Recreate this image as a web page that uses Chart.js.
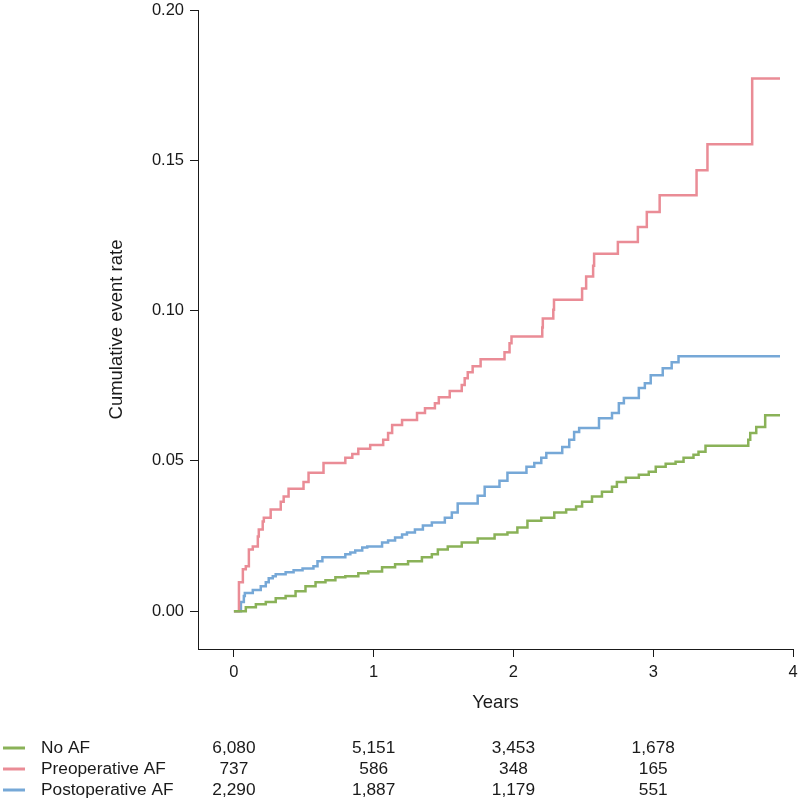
<!DOCTYPE html>
<html>
<head>
<meta charset="utf-8">
<script src="https://cdn.jsdelivr.net/npm/chart.js@4"></script>
<style>
  body { margin: 0; background: #fff; }
</style>
</head>
<body>
<canvas id="kmChart" width="800" height="803"></canvas>
<script>
// step times (years) and cumulative event rate after each step
const noAfTime = [0, 0.085, 0.157, 0.228, 0.299, 0.370, 0.441, 0.512, 0.584, 0.655, 0.726, 0.797, 0.890, 0.961, 1.060, 1.153, 1.246, 1.345, 1.416, 1.459, 1.530, 1.630, 1.744, 1.865, 1.957, 2.028, 2.100, 2.199, 2.292, 2.377, 2.448, 2.491, 2.562, 2.633, 2.705, 2.740, 2.804, 2.897, 2.968, 3.018, 3.089, 3.160, 3.217, 3.288, 3.324, 3.374, 3.680, 3.694, 3.737, 3.801, 3.907];
const noAfRate = [0, 0.0013, 0.0023, 0.0030, 0.0043, 0.0050, 0.0066, 0.0083, 0.0096, 0.0103, 0.0113, 0.0116, 0.0126, 0.0132, 0.0146, 0.0156, 0.0166, 0.0179, 0.0189, 0.0205, 0.0215, 0.0228, 0.0242, 0.0255, 0.0262, 0.0278, 0.0301, 0.0311, 0.0328, 0.0338, 0.0348, 0.0364, 0.0381, 0.0397, 0.0414, 0.0430, 0.0444, 0.0454, 0.0464, 0.0480, 0.0490, 0.0497, 0.0510, 0.0520, 0.0530, 0.0550, 0.0570, 0.0593, 0.0613, 0.0652, 0.0652];

const preAfTime = [0, 0.036, 0.064, 0.085, 0.107, 0.135, 0.171, 0.178, 0.206, 0.214, 0.263, 0.335, 0.356, 0.391, 0.498, 0.534, 0.641, 0.797, 0.847, 0.890, 0.975, 1.068, 1.103, 1.132, 1.203, 1.310, 1.367, 1.438, 1.466, 1.544, 1.630, 1.651, 1.673, 1.708, 1.765, 1.936, 1.972, 1.986, 2.206, 2.210, 2.285, 2.290, 2.491, 2.520, 2.570, 2.577, 2.747, 2.890, 2.954, 3.046, 3.310, 3.388, 3.708, 3.907];
const preAfRate = [0, 0.0096, 0.0139, 0.0149, 0.0205, 0.0215, 0.0248, 0.0272, 0.0298, 0.0311, 0.0338, 0.0364, 0.0381, 0.0407, 0.0430, 0.0460, 0.0493, 0.0510, 0.0523, 0.0540, 0.0553, 0.0570, 0.0593, 0.0619, 0.0636, 0.0659, 0.0675, 0.0692, 0.0712, 0.0732, 0.0752, 0.0775, 0.0795, 0.0815, 0.0838, 0.0861, 0.0891, 0.0914, 0.0944, 0.0974, 0.1003, 0.1036, 0.1073, 0.1113, 0.1149, 0.1189, 0.1228, 0.1278, 0.1328, 0.1384, 0.1467, 0.1553, 0.1772, 0.1772];

const postAfTime = [0, 0.050, 0.071, 0.078, 0.135, 0.192, 0.228, 0.249, 0.278, 0.299, 0.370, 0.427, 0.491, 0.569, 0.598, 0.633, 0.797, 0.833, 0.868, 0.918, 0.954, 1.060, 1.103, 1.153, 1.203, 1.238, 1.295, 1.352, 1.416, 1.509, 1.559, 1.601, 1.744, 1.794, 1.900, 1.957, 2.093, 2.149, 2.199, 2.235, 2.349, 2.399, 2.434, 2.470, 2.612, 2.705, 2.754, 2.790, 2.897, 2.940, 2.982, 3.068, 3.132, 3.181, 3.907];
const postAfRate = [0, 0.0030, 0.0050, 0.0060, 0.0070, 0.0083, 0.0096, 0.0109, 0.0116, 0.0123, 0.0129, 0.0136, 0.0142, 0.0149, 0.0166, 0.0179, 0.0189, 0.0195, 0.0202, 0.0212, 0.0215, 0.0228, 0.0235, 0.0245, 0.0255, 0.0262, 0.0272, 0.0285, 0.0295, 0.0311, 0.0328, 0.0358, 0.0384, 0.0414, 0.0434, 0.0460, 0.0480, 0.0493, 0.0510, 0.0526, 0.0546, 0.0570, 0.0596, 0.0609, 0.0642, 0.0659, 0.0692, 0.0709, 0.0742, 0.0758, 0.0785, 0.0808, 0.0828, 0.0848, 0.0848];

const xTicks = [0, 1, 2, 3, 4];
const yTicks = [0, 0.05, 0.10, 0.15, 0.20];

// numbers at risk
const riskYears = [0, 1, 2, 3];
const groupNames = ['No AF', 'Preoperative AF', 'Postoperative AF'];
const noAfAtRisk = [6080, 5151, 3453, 1678];
const preAfAtRisk = [737, 586, 348, 165];
const postAfAtRisk = [2290, 1887, 1179, 551];

const GREEN = 'rgb(138,178,88)';
const PINK = 'rgb(234,140,150)';
const BLUE = 'rgb(118,168,215)';
const INK = '#1a1a1a';
const FAMILY = '"Liberation Sans", Arial, Helvetica, sans-serif';
const TICK_FONT = {family: FAMILY, size: 16.5};
const TITLE_FONT = {family: FAMILY, size: 18.5};
const TABLE_SIZE = 17.3;

function toPoints(ts, ys) {
  return ts.map((t, i) => ({x: t, y: ys[i]}));
}

const riskTable = {
  id: 'riskTable',
  afterDraw(chart) {
    const ctx = chart.ctx;
    const xs = chart.scales.x;
    const rows = [noAfAtRisk, preAfAtRisk, postAfAtRisk];
    const colors = [GREEN, PINK, BLUE];
    const rowY = [748, 769, 790];
    ctx.save();
    ctx.font = TABLE_SIZE + 'px ' + FAMILY;
    ctx.fillStyle = INK;
    ctx.textBaseline = 'middle';
    rows.forEach((row, r) => {
      ctx.strokeStyle = colors[r];
      ctx.lineWidth = 3;
      ctx.beginPath();
      ctx.moveTo(3, rowY[r]);
      ctx.lineTo(25, rowY[r]);
      ctx.stroke();
      ctx.textAlign = 'left';
      ctx.fillText(groupNames[r], 41, rowY[r]);
      ctx.textAlign = 'center';
      row.forEach((n, i) => {
        ctx.fillText(n.toLocaleString('en-US'), xs.getPixelForValue(riskYears[i]), rowY[r]);
      });
    });
    ctx.restore();
  }
};

new Chart(document.getElementById('kmChart'), {
  type: 'line',
  data: {
    datasets: [
      {label: 'No AF', data: toPoints(noAfTime, noAfRate), borderColor: GREEN},
      {label: 'Preoperative AF', data: toPoints(preAfTime, preAfRate), borderColor: PINK},
      {label: 'Postoperative AF', data: toPoints(postAfTime, postAfRate), borderColor: BLUE}
    ].map(d => Object.assign(d, {stepped: 'before', borderWidth: 2.5, pointRadius: 0, fill: false}))
  },
  options: {
    responsive: false,
    animation: false,
    layout: {padding: {left: 0, top: 10, right: 7, bottom: 84}},
    plugins: {legend: {display: false}, tooltip: {enabled: false}},
    scales: {
      x: {
        type: 'linear',
        min: -0.257,
        max: 4,
        afterBuildTicks: s => { s.ticks = xTicks.map(v => ({value: v})); },
        afterFit: s => { s.height = 70; s.paddingLeft = 0; s.paddingRight = 0; },
        grid: {drawOnChartArea: false, drawTicks: true, tickLength: 8, color: INK},
        border: {display: true, color: INK, width: 1},
        ticks: {font: TICK_FONT, color: INK, padding: 6, maxRotation: 0},
        title: {display: true, text: 'Years', font: TITLE_FONT, color: INK, padding: {top: 0, bottom: 5}}
      },
      y: {
        min: -0.0126,
        max: 0.20,
        afterBuildTicks: s => { s.ticks = yTicks.map(v => ({value: v})); },
        afterFit: s => { s.width = 198; s.paddingTop = 0; s.paddingBottom = 0; },
        grid: {drawOnChartArea: false, drawTicks: true, tickLength: 8, color: INK},
        border: {display: true, color: INK, width: 1},
        ticks: {font: TICK_FONT, color: INK, padding: 6, callback: v => v.toFixed(2)},
        title: {display: true, text: 'Cumulative event rate', font: TITLE_FONT, color: INK, padding: {top: 106, bottom: 0}}
      }
    }
  },
  plugins: [riskTable]
});
</script>
</body>
</html>
